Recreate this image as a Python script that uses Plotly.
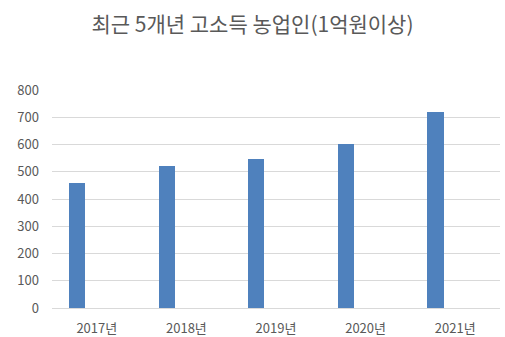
import plotly.graph_objects as go

categories = ["2017년", "2018년", "2019년", "2020년", "2021년"]
values = [459, 520, 545, 603, 718]
title_text = "최근 5개년 고소득 농업인(1억원이상)"

font_family = "Noto Sans CJK KR, Malgun Gothic, sans-serif"

fig = go.Figure()
fig.add_trace(go.Bar(
    x=categories, y=values,
    marker=dict(color="#4F81BD", line=dict(width=0)),
    width=0.18, offset=-0.31,
))

fig.update_layout(
    width=505, height=337,
    margin=dict(l=52, r=5, t=90, b=29),
    paper_bgcolor="white", plot_bgcolor="white",
    showlegend=False,
    title=dict(text=title_text, x=0.5, xanchor="center", y=1 - 25 / 337,
               yanchor="middle", yref="container",
               font=dict(family=font_family, size=21, color="#595959")),
    font=dict(family=font_family, size=13, color="#595959"),
    bargap=0,
)
fig.update_xaxes(
    showgrid=False, showline=True, linecolor="#d9d9d9", linewidth=1,
    ticks="", ticklabelstandoff=8, automargin=False,
    tickfont=dict(family=font_family, size=13, color="#595959"),
    range=[-0.5, 4.5],
)
fig.update_yaxes(
    range=[0, 800], dtick=100, showgrid=True, gridcolor="#d9d9d9", gridwidth=1,
    zeroline=False, showline=False, ticks="", ticklabelstandoff=12, automargin=False,
    tickfont=dict(family=font_family, size=13, color="#595959"),
)

fig.write_html("out.html")
